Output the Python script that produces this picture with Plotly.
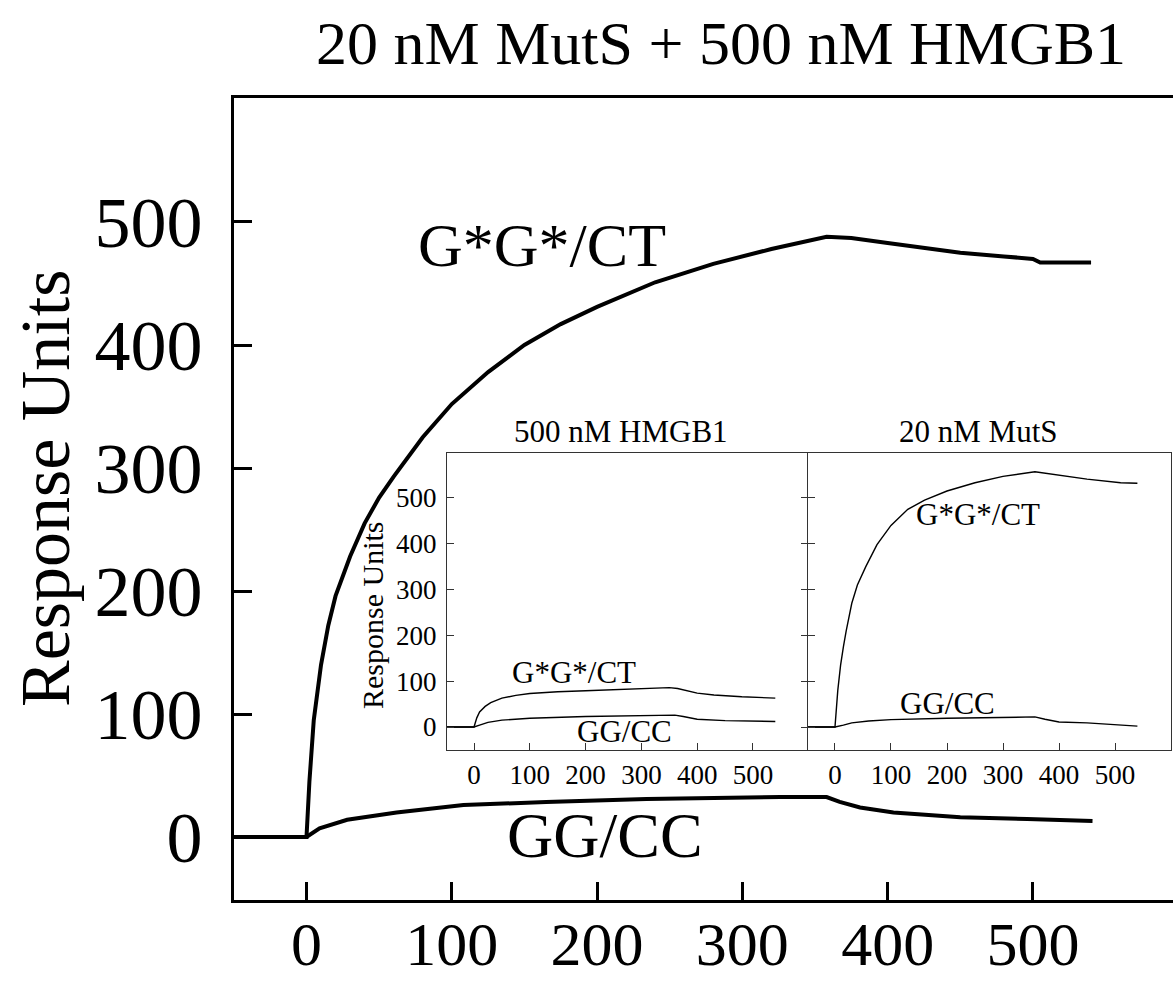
import plotly.graph_objects as go

# main panel: 20 nM MutS + 500 nM HMGB1
main_t = [-50, 0, 2, 5, 10, 15, 20, 30, 40, 50, 60, 80, 100, 125, 150, 175, 200, 240, 280,
          320, 358, 375, 400, 425, 450, 480, 500, 505, 540]
main_gct = [0, 0, 45, 95, 140, 172, 196, 228, 255, 276, 293, 325, 352, 378, 400, 417, 431, 451, 466,
            478, 488, 487, 483, 479, 475, 472, 470, 467, 467]
main_gg_t = [-50, 0, 9, 28, 62, 108, 165, 234, 326, 358, 367, 381, 404, 450, 496, 541]
main_gg = [0, 0, 7, 14, 20, 26, 28.5, 31, 32.5, 32.5, 28.5, 24, 20, 16, 14.6, 13]

# inset: 500 nM HMGB1
hm_t = [-50, 0, 5, 10, 20, 30, 50, 75, 100, 150, 200, 250, 300, 350, 365, 380, 400, 430, 480, 540]
hm_gct = [0, 0, 20, 33, 45, 53, 63, 69, 73, 77, 79, 81, 83, 86, 84, 79, 74, 70, 66, 63]
hm_gg_t = [-50, 0, 10, 25, 50, 100, 200, 300, 360, 375, 400, 450, 540]
hm_gg = [0, 0, 4, 10, 15, 19, 23, 25, 26, 23, 17, 14, 12]

# inset: 20 nM MutS
ms_t = [-50, 0, 5, 10, 15, 20, 30, 40, 55, 75, 100, 130, 160, 200, 250, 300, 357, 390, 450, 510, 540]
ms_gct = [0, 0, 80, 135, 175, 210, 270, 310, 350, 398, 440, 475, 495, 515, 533, 547, 557, 551, 541, 533, 532]
ms_gg_t = [-50, 0, 15, 30, 60, 100, 200, 300, 357, 375, 400, 450, 500, 540]
ms_gg = [0, 0, 4, 9, 13, 16, 19, 21, 22, 17, 11, 9, 6, 2]

ticks = [0, 100, 200, 300, 400, 500]

W, H = 1173, 983
FONT = "Liberation Serif, Times New Roman, serif"


def px(x, y):
    return x / W, 1 - y / H


fig = go.Figure()

thick = dict(color="black", width=4)
thin = dict(color="black", width=1.4)

fig.add_trace(go.Scatter(x=main_t, y=main_gct, mode="lines", line=thick, xaxis="x", yaxis="y"))
fig.add_trace(go.Scatter(x=main_gg_t, y=main_gg, mode="lines", line=thick, xaxis="x", yaxis="y"))
fig.add_trace(go.Scatter(x=hm_t, y=hm_gct, mode="lines", line=thin, xaxis="x2", yaxis="y2"))
fig.add_trace(go.Scatter(x=hm_gg_t, y=hm_gg, mode="lines", line=thin, xaxis="x2", yaxis="y2"))
fig.add_trace(go.Scatter(x=ms_t, y=ms_gct, mode="lines", line=thin, xaxis="x3", yaxis="y3"))
fig.add_trace(go.Scatter(x=ms_gg_t, y=ms_gg, mode="lines", line=thin, xaxis="x3", yaxis="y3"))

big_ax = dict(showgrid=False, zeroline=False, showline=True, linecolor="black", linewidth=3,
              ticks="inside", ticklen=18, tickwidth=3, tickcolor="black", tickvals=ticks,
              automargin=False)
small_ax = dict(showgrid=False, zeroline=False, showline=True, linecolor="#333", linewidth=1.3,
                ticks="inside", ticklen=7, tickwidth=1.2, tickcolor="#333", tickvals=ticks,
                mirror=True, automargin=False,
                tickfont=dict(family=FONT, size=27, color="black"))

fig.update_layout(
    width=W, height=H,
    margin=dict(l=0, r=0, t=0, b=0),
    paper_bgcolor="white", plot_bgcolor="white",
    showlegend=False,
    font=dict(family=FONT, color="black"),
    xaxis=dict(big_ax, domain=[234 / W, 1.0], range=[-49.9, 596.4], anchor="y", mirror=True,
               tickfont=dict(family=FONT, size=62), ticklabelstandoff=-12),
    yaxis=dict(big_ax, domain=[1 - 900 / H, 1 - 98 / H], range=[-51.2, 600.8], anchor="x",
               tickfont=dict(family=FONT, size=72), ticklabelstandoff=14),
    xaxis2=dict(small_ax, domain=[447 / W, 808 / W], range=[-48.4, 598.6], anchor="y2",
                ticklabelstandoff=0),
    yaxis2=dict(small_ax, domain=[1 - 750 / H, 1 - 453 / H], range=[-50.2, 598], anchor="x2",
                mirror="ticks", ticklabelstandoff=4),
    xaxis3=dict(small_ax, domain=[808 / W, 1171 / W], range=[-48.2, 600], anchor="y3",
                ticklabelstandoff=0),
    yaxis3=dict(small_ax, domain=[1 - 750 / H, 1 - 453 / H], range=[-50.2, 598], anchor="x3",
                showticklabels=False),
)

labels = [
    ("20 nM MutS + 500 nM HMGB1", 721, 43, 62, 0),
    ("Response Units", 45, 488, 70, -90),
    ("G*G*/CT", 542, 245, 62, 0),
    ("GG/CC", 605, 835, 64, 0),
    ("500 nM HMGB1", 621, 432, 31, 0),
    ("20 nM MutS", 978, 432, 31, 0),
    ("Response Units", 372, 615, 30, -90),
    ("G*G*/CT", 574, 672, 31, 0),
    ("GG/CC", 624, 731, 31, 0),
    ("G*G*/CT", 978, 514, 31, 0),
    ("GG/CC", 947, 703, 31, 0),
]
for text, x, y, size, ang in labels:
    ax, ay = px(x, y)
    fig.add_annotation(text=text, x=ax, y=ay, xref="paper", yref="paper", showarrow=False,
                       xanchor="center", yanchor="middle", textangle=ang,
                       font=dict(family=FONT, size=size, color="black"))

# drop the default page margin so the figure sits at the window's corner
fig.write_html("out.html", config={"displayModeBar": False},
               post_script="document.body.style.margin='0';")
